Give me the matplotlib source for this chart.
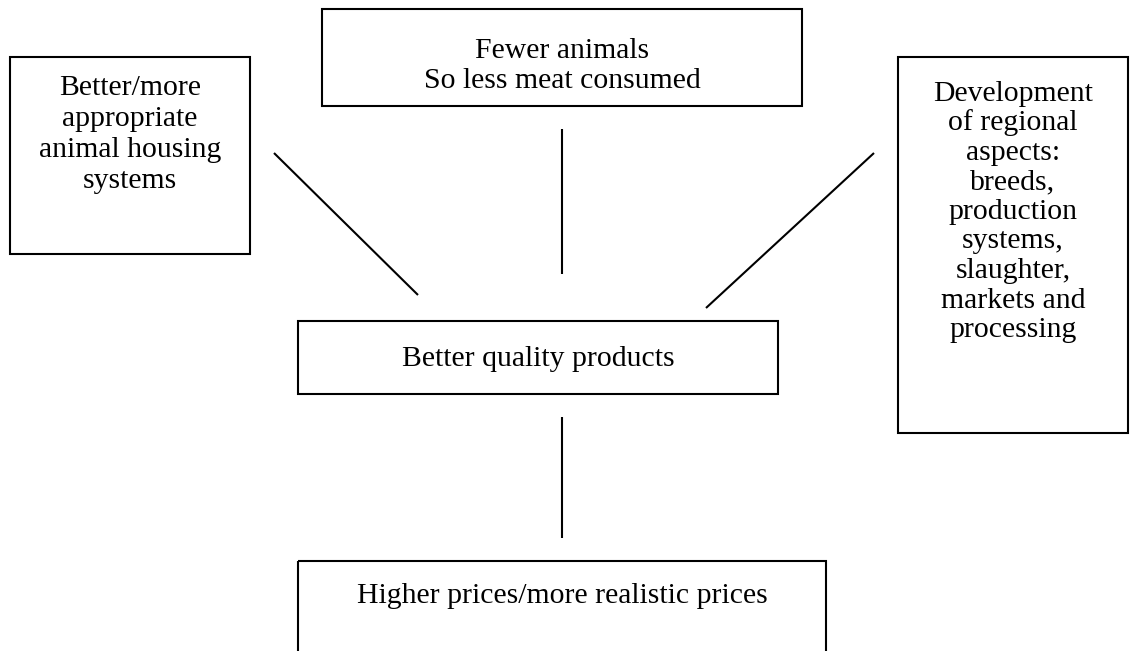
import matplotlib

matplotlib.use("Agg")
import matplotlib.pyplot as plt
from matplotlib.patches import Rectangle

W, H = 1130, 651

# Boxes in pixel coordinates (y grows downward)
box_left = [10, 322, 898, 298, 298]
box_top = [57, 9, 57, 321, 561]
box_right = [250, 802, 1128, 778, 826]
box_bottom = [254, 106, 433, 394, 660]

box_lines = [
    ["Better/more", "appropriate", "animal housing", "systems"],
    ["Fewer animals", "So less meat consumed"],
    ["Development", "of regional", "aspects:", "breeds,", "production",
     "systems,", "slaughter,", "markets and", "processing"],
    ["Better quality products"],
    ["Higher prices/more realistic prices"],
]
first_baseline = [95, 58, 101, 366, 603]
line_step = [31, 30, 29.5, 0, 0]

# Connector lines
link_x0 = [274, 562, 874, 562]
link_y0 = [153, 129, 153, 417]
link_x1 = [418, 562, 706, 562]
link_y1 = [295, 274, 308, 538]

fig = plt.figure(figsize=(W / 100, H / 100), dpi=100)
ax = fig.add_axes([0, 0, 1, 1])
ax.set_xlim(0, W)
ax.set_ylim(H, 0)
ax.axis("off")

for x0, y0, x1, y1, lines, b0, step in zip(box_left, box_top, box_right, box_bottom,
                                            box_lines, first_baseline, line_step):
    ax.add_patch(Rectangle((x0, y0), x1 - x0, y1 - y0, fill=False,
                           edgecolor="black", lw=1.5))
    cx = (x0 + x1) / 2
    for i, line in enumerate(lines):
        ax.text(cx, b0 + i * step, line, ha="center", va="baseline",
                fontsize=21.4, family="Liberation Serif", color="black")

for x0, y0, x1, y1 in zip(link_x0, link_y0, link_x1, link_y1):
    ax.plot([x0, x1], [y0, y1], color="black", lw=1.5, solid_capstyle="butt")

fig.savefig("out.png", dpi=100)
plt.close(fig)
